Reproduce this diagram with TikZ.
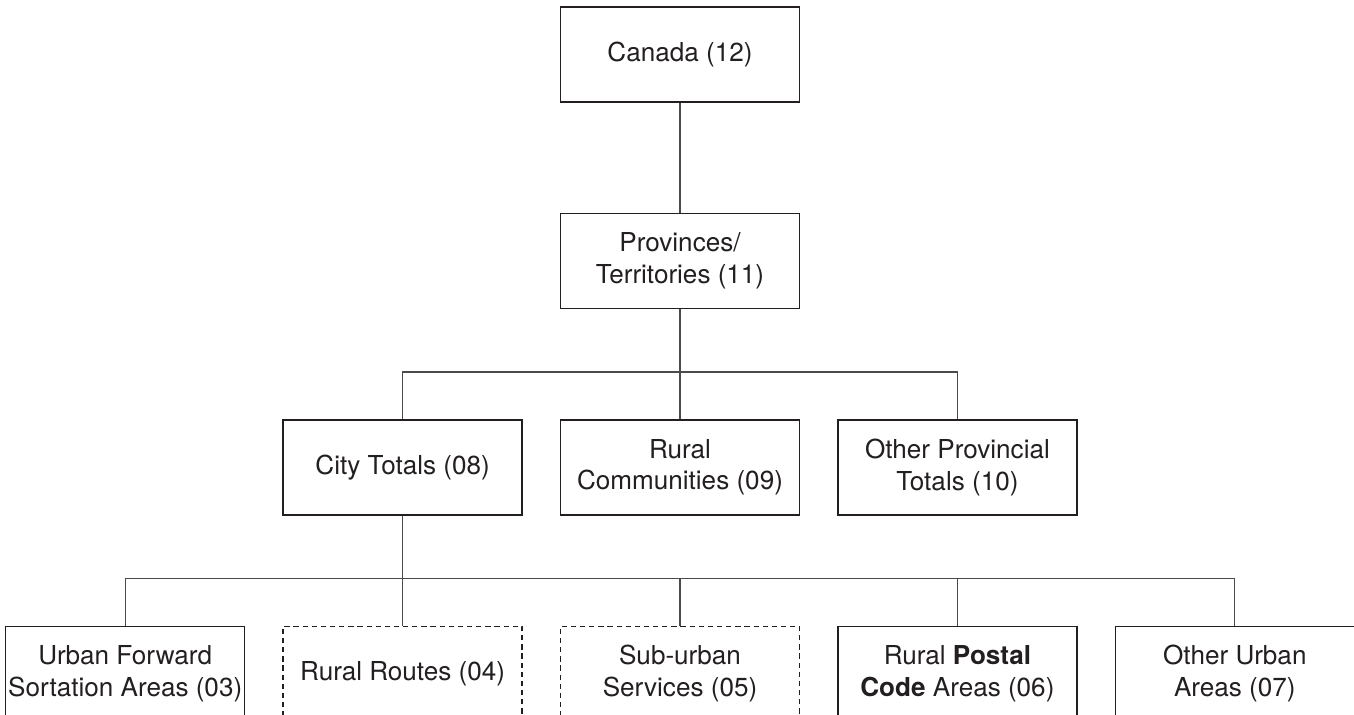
\documentclass[tikz,border=0pt]{standalone}
\usepackage{fontspec}
\setmainfont{TeX Gyre Heros}
\usepackage{xcolor}
\usepackage{tikz}
\usetikzlibrary{positioning}
\definecolor{ink}{HTML}{231F20}
\definecolor{wire}{HTML}{4A4A4A}

\begin{document}
\begin{tikzpicture}[
    node distance=2.2cm and 0.74cm,
    box/.style={draw=ink,line width=0.8pt,minimum width=4.78cm,minimum height=1.9cm,inner sep=0pt,align=center,text=ink,font=\fontsize{14.85}{18}\selectfont},
    dashbox/.style={box,dash pattern=on 3pt off 2.2pt},
    link/.style={draw=wire,line width=0.75pt}
  ]
    \useasboundingbox (0,0) rectangle (27.08,-14.28);

    % Country and provinces
    \node[box] (canada) at (13.6,-1.09) {Canada (12)};
    \node[box,below=of canada] (prov) {Provinces/\\Territories (11)};

    % Provincial level
    \node[box,below=of prov] (ruralcom) {Rural\\Communities (09)};
    \node[box,left=of ruralcom] (city) {City Totals (08)};
    \node[box,right=of ruralcom] (otherprov) {Other Provincial\\Totals (10)};

    % City level
    \node[dashbox,below=of ruralcom] (suburban) {Sub-urban\\Services (05)};
    \node[dashbox,left=of suburban] (routes) {Rural Routes (04)};
    \node[box,left=of routes] (urban) {Urban Forward\\Sortation Areas (03)};
    \node[box,right=of suburban] (postal) {Rural \textbf{Postal}\\\textbf{Code} Areas (06)};
    \node[box,right=of postal] (otherurban) {Other Urban\\Areas (07)};

    % Buses
    \coordinate[above=0.94cm of ruralcom] (busA);
    \coordinate[above=0.94cm of suburban] (busB);

    % Lines
    \draw[link] (canada) -- (prov);
    \draw[link] (prov) -- (ruralcom);
    \draw[link] (city.north) |- (busA) -| (otherprov.north);
    \draw[link] (city) -- (routes);
    \draw[link] (urban.north) |- (busB) -| (otherurban.north);
    \foreach \n in {suburban,postal}
      \draw[link] (\n.north) -- (\n.north |- busB);
  \end{tikzpicture}
\end{document}
